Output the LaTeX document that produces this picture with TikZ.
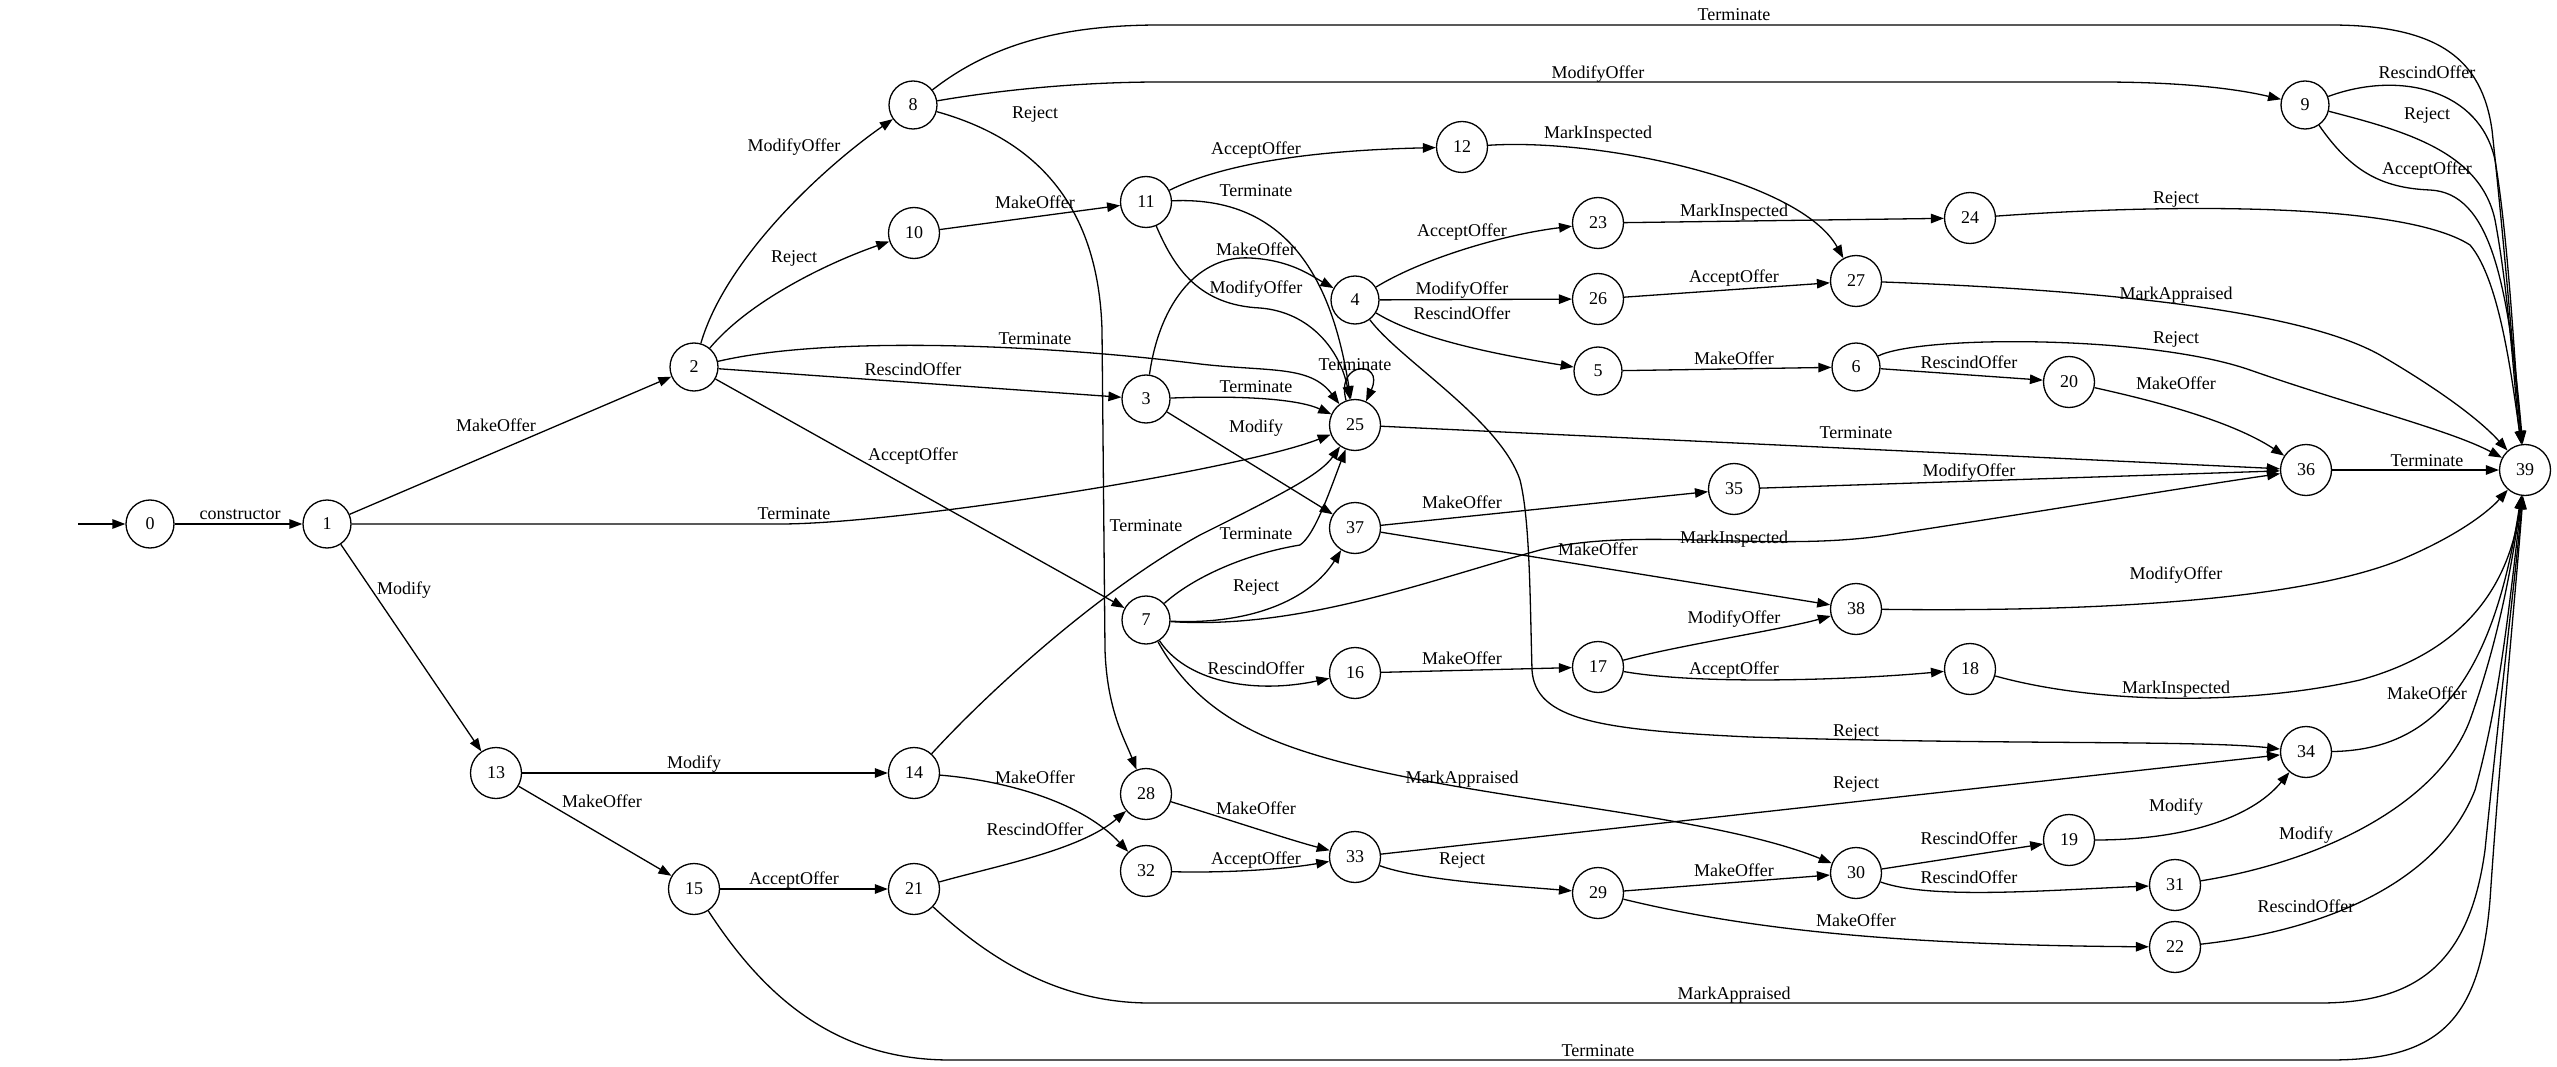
\documentclass[tikz,border=0pt]{standalone}
\usepackage{fontspec}
\setmainfont{Liberation Serif}
\usetikzlibrary{arrows.meta}
\begin{document}
\begin{tikzpicture}[x=1pt,y=-1pt,
  st/.style={circle,draw,line width=1.3pt,minimum size=51pt,inner sep=0pt,font=\fontsize{18}{20}\selectfont},
  ss/.style={st,minimum size=48pt},
  e/.style={draw,line width=1.3pt,-{Triangle[length=13pt,width=9.5pt]}},
  lb/.style={inner sep=0pt,text height=12.3pt,text depth=0pt,font=\fontsize{18}{20}\selectfont}]
\useasboundingbox (0,0) rectangle (2557,1067);
% states
\node[ss] (n0) at (150,524) {0};
\node[ss] (n1) at (327,524) {1};
\node[ss] (n2) at (694,367) {2};
\node[ss] (n3) at (1146,399) {3};
\node[ss] (n4) at (1355,300) {4};
\node[ss] (n5) at (1598,371) {5};
\node[ss] (n6) at (1856,367) {6};
\node[ss] (n7) at (1146,620) {7};
\node[ss] (n8) at (913,105) {8};
\node[ss] (n9) at (2305,105) {9};
\node[st] (n10) at (914,233) {10};
\node[st] (n11) at (1146,202) {11};
\node[st] (n12) at (1462,147) {12};
\node[st] (n13) at (496,773) {13};
\node[st] (n14) at (914,773) {14};
\node[st] (n15) at (694,889) {15};
\node[st] (n16) at (1355,673) {16};
\node[st] (n17) at (1598,667) {17};
\node[st] (n18) at (1970,669) {18};
\node[st] (n19) at (2069,840) {19};
\node[st] (n20) at (2069,382) {20};
\node[st] (n21) at (914,889) {21};
\node[st] (n22) at (2175,947) {22};
\node[st] (n23) at (1598,223) {23};
\node[st] (n24) at (1970,218) {24};
\node[st] (n25) at (1355,425) {25};
\node[st] (n26) at (1598,299) {26};
\node[st] (n27) at (1856,281) {27};
\node[st] (n28) at (1146,794) {28};
\node[st] (n29) at (1598,893) {29};
\node[st] (n30) at (1856,873) {30};
\node[st] (n31) at (2175,885) {31};
\node[st] (n32) at (1146,871) {32};
\node[st] (n33) at (1355,857) {33};
\node[st] (n34) at (2306,752) {34};
\node[st] (n35) at (1734,489) {35};
\node[st] (n36) at (2306,470) {36};
\node[st] (n37) at (1355,528) {37};
\node[st] (n38) at (1856,609) {38};
\node[st] (n39) at (2525,470) {39};
\coordinate (s) at (78,524);
% transitions
\draw[e] (s) -- (n0);
\draw[e] (n0) -- (n1);
\draw[e] (n1) -- (n2);
\draw[e] (n1) -- (n13);
\draw[e] (n1) -- (780,524) .. controls (900,524) and (1240,470) .. (n25);
\draw[e] (n2) .. controls (725,260) and (820,170) .. (n8);
\draw[e] (n2) .. controls (750,300) and (830,262) .. (n10);
\draw[e] (n2) .. controls (830,335) and (1050,345) .. (1200,364) .. controls (1270,372) and (1310,365) .. (n25);
\draw[e] (n2) -- (n3);
\draw[e] (n2) -- (n7);
\draw[e] (n8) .. controls (990,45) and (1060,25) .. (1160,25) -- (2330,25) .. controls (2440,25) and (2482,60) .. (2492,130) .. controls (2505,250) and (2515,380) .. (n39);
\draw[e] (n8) .. controls (1000,90) and (1080,82) .. (1160,82) -- (2100,82) .. controls (2200,82) and (2250,92) .. (n9);
\draw[e] (n8) .. controls (1020,135) and (1098,190) .. (1102,330) -- (1105,650) .. controls (1107,710) and (1125,740) .. (n28);
\draw[e] (n10) -- (n11);
\draw[e] (n11) .. controls (1230,160) and (1330,150) .. (n12);
\draw[e] (n11) .. controls (1300,195) and (1335,300) .. (n25);
\draw[e] (n11) .. controls (1175,270) and (1200,305) .. (1260,308) .. controls (1310,312) and (1340,350) .. (n25);
\draw[e] (n3) .. controls (1160,300) and (1200,255) .. (1250,258) .. controls (1290,260) and (1310,275) .. (n4);
\draw[e] (n3) .. controls (1250,395) and (1300,400) .. (n25);
\draw[e] (n3) -- (n37);
\draw[e] (n4) .. controls (1420,260) and (1500,235) .. (n23);
\draw[e] (n4) -- (n26);
\draw[e] (n4) .. controls (1420,340) and (1500,355) .. (n5);
\draw[e] (n4) .. controls (1400,360) and (1500,420) .. (1520,480) .. controls (1530,520) and (1530,600) .. (1532,670) .. controls (1535,720) and (1600,730) .. (1750,737) .. controls (2000,745) and (2200,740) .. (n34);
\draw[e] (n12) .. controls (1600,138) and (1800,180) .. (n27);
\draw[e] (n23) -- (n24);
\draw[e] (n24) .. controls (2150,205) and (2400,200) .. (2470,245) .. controls (2500,280) and (2512,380) .. (n39);
\draw[e] (n26) -- (n27);
\draw[e] (n27) .. controls (2100,290) and (2300,310) .. (2380,355) .. controls (2440,390) and (2480,420) .. (n39);
\draw[e] (n5) -- (n6);
\draw[e] (n6) .. controls (1920,335) and (2150,335) .. (2250,370) .. controls (2350,405) and (2450,430) .. (n39);
\draw[e] (n6) -- (n20);
\draw[e] (n20) .. controls (2150,400) and (2230,420) .. (n36);
\draw[e] (n25) -- (n36);
\draw[e] (n25.110) .. controls (1335,360) and (1385,360) .. (n25.65);
\draw[e] (n35) -- (n36);
\draw[e] (n36) -- (n39);
\draw[e] (n37) -- (n35);
\draw[e] (n37) -- (n38);
\draw[e] (n7) .. controls (1190,580) and (1240,555) .. (1300,545) .. controls (1315,535) and (1330,490) .. (n25);
\draw[e] (n7) .. controls (1250,625) and (1310,600) .. (n37);
\draw[e] (n7) .. controls (1300,630) and (1430,580) .. (1540,550) .. controls (1640,525) and (1780,555) .. (1900,533) .. controls (2050,510) and (2200,485) .. (n36);
\draw[e] (n7) .. controls (1185,680) and (1250,695) .. (n16);
\draw[e] (n7) .. controls (1190,700) and (1240,730) .. (1300,750) .. controls (1450,800) and (1700,810) .. (n30);
\draw[e] (n16) -- (n17);
\draw[e] (n17) .. controls (1680,645) and (1780,630) .. (n38);
\draw[e] (n17) .. controls (1700,685) and (1850,680) .. (n18);
\draw[e] (n18) .. controls (2100,705) and (2250,705) .. (2360,680) .. controls (2470,650) and (2510,580) .. (n39);
\draw[e] (n38) .. controls (2100,612) and (2300,600) .. (2400,560) .. controls (2460,535) and (2490,510) .. (n39);
\draw[e] (n13) -- (n14);
\draw[e] (n13) -- (n15);
\draw[e] (n14) .. controls (990,690) and (1100,590) .. (1200,535) .. controls (1280,495) and (1320,475) .. (n25);
\draw[e] (n14) .. controls (1000,780) and (1080,800) .. (n32);
\draw[e] (n15) -- (n21);
\draw[e] (n15) .. controls (760,990) and (830,1060) .. (950,1060) -- (2330,1060) .. controls (2440,1060) and (2480,1020) .. (2490,900) .. controls (2500,750) and (2515,600) .. (n39);
\draw[e] (n21) .. controls (1000,865) and (1080,850) .. (n28);
\draw[e] (n21) .. controls (990,960) and (1060,1003) .. (1150,1003) -- (2320,1003) .. controls (2420,1003) and (2470,960) .. (2485,850) .. controls (2500,700) and (2515,580) .. (n39);
\draw[e] (n28) .. controls (1230,820) and (1290,840) .. (n33);
\draw[e] (n32) .. controls (1220,873) and (1280,870) .. (n33);
\draw[e] (n33) -- (n34);
\draw[e] (n33) .. controls (1420,880) and (1500,885) .. (n29);
\draw[e] (n29) -- (n30);
\draw[e] (n29) .. controls (1750,930) and (1900,945) .. (n22);
\draw[e] (n30) -- (n19);
\draw[e] (n30) .. controls (1930,900) and (2050,890) .. (n31);
\draw[e] (n19) .. controls (2180,840) and (2250,820) .. (n34);
\draw[e] (n31) .. controls (2330,860) and (2440,800) .. (2470,720) .. controls (2495,650) and (2510,580) .. (n39);
\draw[e] (n22) .. controls (2330,930) and (2440,880) .. (2475,790) .. controls (2500,700) and (2510,600) .. (n39);
\draw[e] (n34) .. controls (2420,750) and (2490,700) .. (n39);
\draw[e] (n9) .. controls (2400,70) and (2480,90) .. (2495,160) .. controls (2510,250) and (2515,380) .. (n39);
\draw[e] (n9) .. controls (2400,130) and (2480,150) .. (2495,220) .. controls (2510,300) and (2515,400) .. (n39);
\draw[e] (n9) .. controls (2350,170) and (2380,188) .. (2430,190) .. controls (2490,193) and (2508,280) .. (n39);
% labels
\node[lb] (l1) at (240,513) {constructor};
\node[lb] (l2) at (496,425) {MakeOffer};
\node[lb] (l3) at (404,588) {Modify};
\node[lb] (l4) at (794,513) {Terminate};
\node[lb] (l5) at (794,145) {ModifyOffer};
\node[lb] (l6) at (794,256) {Reject};
\node[lb] (l7) at (1035,338) {Terminate};
\node[lb] (l8) at (913,369) {RescindOffer};
\node[lb] (l9) at (913,454) {AcceptOffer};
\node[lb] (l10) at (1734,14) {Terminate};
\node[lb] (l11) at (1598,72) {ModifyOffer};
\node[lb] (l12) at (1035,112) {Reject};
\node[lb] (l13) at (1035,202) {MakeOffer};
\node[lb] (l14) at (1256,148) {AcceptOffer};
\node[lb] (l15) at (1256,190) {Terminate};
\node[lb] (l16) at (1256,287) {ModifyOffer};
\node[lb] (l17) at (1256,249) {MakeOffer};
\node[lb] (l18) at (1256,386) {Terminate};
\node[lb] (l19) at (1256,426) {Modify};
\node[lb] (l20) at (1462,230) {AcceptOffer};
\node[lb] (l21) at (1462,288) {ModifyOffer};
\node[lb] (l22) at (1462,313) {RescindOffer};
\node[lb] (l23) at (1856,730) {Reject};
\node[lb] (l24) at (1598,132) {MarkInspected};
\node[lb] (l25) at (1734,210) {MarkInspected};
\node[lb] (l26) at (2176,197) {Reject};
\node[lb] (l27) at (1734,276) {AcceptOffer};
\node[lb] (l28) at (2176,293) {MarkAppraised};
\node[lb] (l29) at (1734,358) {MakeOffer};
\node[lb] (l30) at (2176,337) {Reject};
\node[lb] (l31) at (1969,362) {RescindOffer};
\node[lb] (l32) at (2176,383) {MakeOffer};
\node[lb] (l33) at (1856,432) {Terminate};
\node[lb] (l34) at (1355,364) {Terminate};
\node[lb] (l35) at (1969,470) {ModifyOffer};
\node[lb] (l36) at (2427,460) {Terminate};
\node[lb] (l37) at (1462,502) {MakeOffer};
\node[lb] (l38) at (1598,549) {MakeOffer};
\node[lb] (l39) at (1256,533) {Terminate};
\node[lb] (l40) at (1256,585) {Reject};
\node[lb] (l41) at (1734,537) {MarkInspected};
\node[lb] (l42) at (1256,668) {RescindOffer};
\node[lb] (l43) at (1462,777) {MarkAppraised};
\node[lb] (l44) at (1462,658) {MakeOffer};
\node[lb] (l45) at (1734,617) {ModifyOffer};
\node[lb] (l46) at (1734,668) {AcceptOffer};
\node[lb] (l47) at (2176,687) {MarkInspected};
\node[lb] (l48) at (2176,573) {ModifyOffer};
\node[lb] (l49) at (694,762) {Modify};
\node[lb] (l50) at (602,801) {MakeOffer};
\node[lb] (l51) at (1146,525) {Terminate};
\node[lb] (l52) at (1035,777) {MakeOffer};
\node[lb] (l53) at (794,878) {AcceptOffer};
\node[lb] (l54) at (1598,1050) {Terminate};
\node[lb] (l55) at (1035,829) {RescindOffer};
\node[lb] (l56) at (1734,993) {MarkAppraised};
\node[lb] (l57) at (1256,808) {MakeOffer};
\node[lb] (l58) at (1256,858) {AcceptOffer};
\node[lb] (l59) at (1856,782) {Reject};
\node[lb] (l60) at (1462,858) {Reject};
\node[lb] (l61) at (1734,870) {MakeOffer};
\node[lb] (l62) at (1856,920) {MakeOffer};
\node[lb] (l63) at (1969,838) {RescindOffer};
\node[lb] (l64) at (1969,877) {RescindOffer};
\node[lb] (l65) at (2176,805) {Modify};
\node[lb] (l66) at (2306,833) {Modify};
\node[lb] (l67) at (2306,906) {RescindOffer};
\node[lb] (l68) at (2427,693) {MakeOffer};
\node[lb] (l69) at (2427,72) {RescindOffer};
\node[lb] (l70) at (2427,113) {Reject};
\node[lb] (l71) at (2427,168) {AcceptOffer};
\end{tikzpicture}
\end{document}
